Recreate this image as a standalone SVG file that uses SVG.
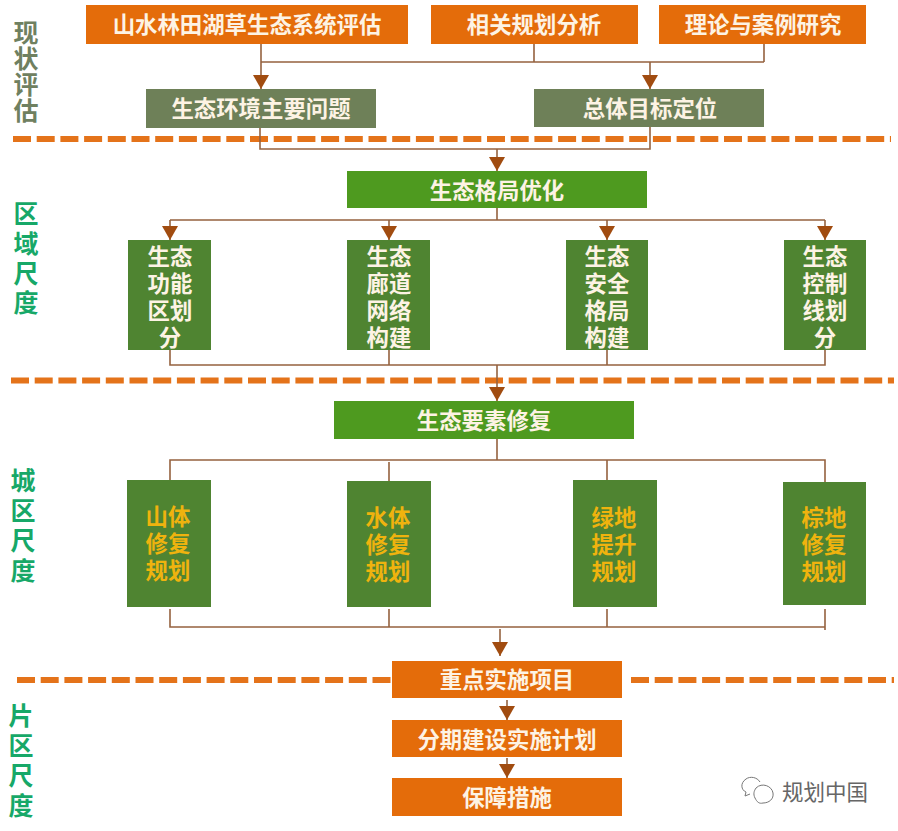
<svg xmlns="http://www.w3.org/2000/svg" width="898" height="831" viewBox="0 0 898 831">
<style>
text{font-family:"Liberation Sans","Noto Sans CJK SC",sans-serif;font-weight:700;text-anchor:middle}
.o{fill:#e46c0a}.g{fill:#6e8058}.b{fill:#4e9a1f}.d{fill:#4f8431}
.t{fill:#fdf3e4;font-size:22.4px}.y{fill:#efb30e;font-size:22.4px}
.s{font-size:25px;fill:#17a868}.s0{font-size:25px;fill:#6f8060}
.c{fill:none;stroke:#95623f;stroke-width:1.6}
.a{fill:none;stroke:#95623f;stroke-width:1.6;marker-end:url(#m)}
.dash{fill:none;stroke:#e4731a;stroke-width:6;stroke-dasharray:18 5.7}
</style>
<defs><marker id="m" markerUnits="userSpaceOnUse" markerWidth="15" markerHeight="16" refX="14" refY="8" orient="auto" viewBox="0 0 15 16"><path d="M0 0L14 8L0 16Z" fill="#a14c10"/></marker></defs>
<rect width="898" height="831" fill="#fff"/>
<g id="dividers">
<path class="dash" d="M13 139H891M11 380.500H894M17 680H392M631 680H894"/>
</g>
<g id="connectors">
<path class="c" d="M261 62H764M534 44V62M764 44V62"/>
<path class="a" d="M261 44V89"/>
<path class="a" d="M650 62V89"/>
<path class="c" d="M260 128V149H650V127"/>
<path class="a" d="M497 149V171"/>
<path class="c" d="M170 220H825M497 208V220"/>
<path class="a" d="M170 220V240"/><path class="a" d="M389 220V240"/><path class="a" d="M607 220V240"/><path class="a" d="M825 220V240"/>
<path class="c" d="M170 350V365H825V350M389 350V365M607 350V365"/>
<path class="a" d="M497 365V401"/>
<path class="c" d="M170 480V460H825V482M497 439V460M389 462V481M607 460V480"/>
<path class="c" d="M170 609V627H825M825 609V630M389 609V627M607 609V627"/>
<path class="a" d="M500 629V656"/>
<path class="a" d="M507 700V720"/>
<path class="a" d="M507 758V778"/>
</g>
<g id="label-xianzhuang"><text class="s0"><tspan x="26" y="42">现</tspan><tspan x="26" y="68">状</tspan><tspan x="26" y="94">评</tspan><tspan x="26" y="120">估</tspan></text></g>
<g id="label-quyu"><text class="s"><tspan x="26" y="223">区</tspan><tspan x="26" y="253">域</tspan><tspan x="26" y="283">尺</tspan><tspan x="26" y="312">度</tspan></text></g>
<g id="label-chengqu"><text class="s"><tspan x="23" y="490">城</tspan><tspan x="23" y="520">区</tspan><tspan x="23" y="550">尺</tspan><tspan x="23" y="580">度</tspan></text></g>
<g id="label-pianqu"><text class="s"><tspan x="21" y="725">片</tspan><tspan x="21" y="755">区</tspan><tspan x="21" y="785">尺</tspan><tspan x="21" y="815">度</tspan></text></g>
<g id="n1"><rect class="o" x="86" y="5" width="322" height="39"/><text class="t" x="247" y="33">山水林田湖草生态系统评估</text></g>
<g id="n2"><rect class="o" x="431" y="5" width="207" height="39"/><text class="t" x="534" y="33">相关规划分析</text></g>
<g id="n3"><rect class="o" x="659" y="5" width="207" height="39"/><text class="t" x="763" y="33">理论与案例研究</text></g>
<g id="n4"><rect class="g" x="146" y="89" width="230" height="39"/><text class="t" x="261" y="117">生态环境主要问题</text></g>
<g id="n5"><rect class="g" x="534" y="89" width="230" height="38"/><text class="t" x="650" y="117">总体目标定位</text></g>
<g id="n6"><rect class="b" x="347" y="171" width="300" height="37"/><text class="t" x="497" y="199">生态格局优化</text></g>
<g id="n7"><rect class="d" x="128" y="240" width="83" height="110"/><text class="t"><tspan x="170" y="265">生态</tspan><tspan x="170" y="292">功能</tspan><tspan x="170" y="319">区划</tspan><tspan x="170" y="346">分</tspan></text></g>
<g id="n8"><rect class="d" x="347" y="240" width="83" height="110"/><text class="t"><tspan x="389" y="265">生态</tspan><tspan x="389" y="292">廊道</tspan><tspan x="389" y="319">网络</tspan><tspan x="389" y="346">构建</tspan></text></g>
<g id="n9"><rect class="d" x="566" y="240" width="82" height="110"/><text class="t"><tspan x="607" y="265">生态</tspan><tspan x="607" y="292">安全</tspan><tspan x="607" y="319">格局</tspan><tspan x="607" y="346">构建</tspan></text></g>
<g id="n10"><rect class="d" x="784" y="240" width="82" height="110"/><text class="t"><tspan x="825" y="265">生态</tspan><tspan x="825" y="292">控制</tspan><tspan x="825" y="319">线划</tspan><tspan x="825" y="346">分</tspan></text></g>
<g id="n11"><rect class="b" x="334" y="401" width="300" height="38"/><text class="t" x="484" y="429">生态要素修复</text></g>
<g id="n12"><rect class="d" x="127" y="480" width="84" height="127"/><text class="y"><tspan x="168" y="525">山体</tspan><tspan x="168" y="552">修复</tspan><tspan x="168" y="579">规划</tspan></text></g>
<g id="n13"><rect class="d" x="347" y="481" width="84" height="126"/><text class="y"><tspan x="388" y="526">水体</tspan><tspan x="388" y="553">修复</tspan><tspan x="388" y="580">规划</tspan></text></g>
<g id="n14"><rect class="d" x="573" y="480" width="84" height="127"/><text class="y"><tspan x="614" y="526">绿地</tspan><tspan x="614" y="553">提升</tspan><tspan x="614" y="580">规划</tspan></text></g>
<g id="n15"><rect class="d" x="783" y="482" width="83" height="123"/><text class="y"><tspan x="824" y="526">棕地</tspan><tspan x="824" y="553">修复</tspan><tspan x="824" y="580">规划</tspan></text></g>
<g id="n16"><rect class="o" x="392" y="661" width="230" height="37"/><text class="t" x="507" y="688">重点实施项目</text></g>
<g id="n17"><rect class="o" x="392" y="720" width="230" height="37"/><text class="t" x="507" y="748">分期建设实施计划</text></g>
<g id="n18"><rect class="o" x="392" y="778" width="230" height="38"/><text class="t" x="507" y="806">保障措施</text></g>
<g id="watermark" fill="none" stroke="#777" stroke-width="1">
<path d="M760 782C757 777 750 776 746 779C740 783 741 790 746 792L745 796L750 794"/>
<path d="M756 788C762 782 772 786 773 793C774 799 769 803 763 803C759 804 757 802 755 798C753 794 754 791 756 788Z"/>
<text x="825" y="800" font-size="21.500" style="fill:#666;font-weight:400;stroke:none">规划中国</text>
</g>
</svg>
